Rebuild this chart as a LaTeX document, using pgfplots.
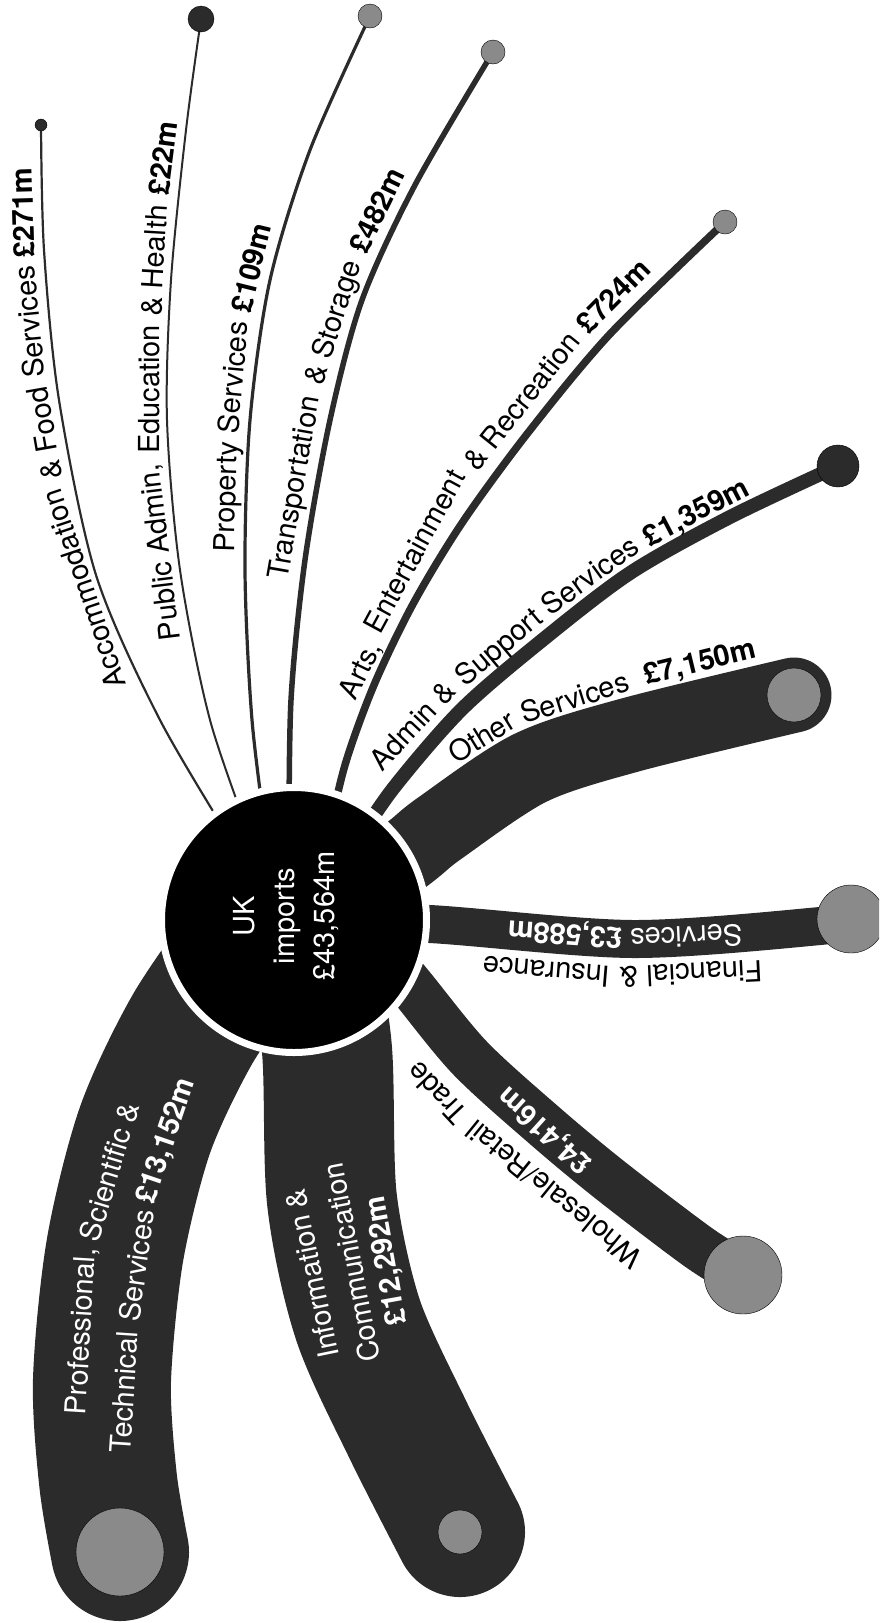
\documentclass[border=0pt]{standalone}
\usepackage{fontspec}
\setmainfont{TeX Gyre Heros}
\usepackage{pgfplots}
\pgfplotsset{compat=1.18}

\definecolor{band}{HTML}{2B2B2B}
\definecolor{knob}{HTML}{8A8A8A}
\protected\def\lf{\fontsize{29}{34}\selectfont}
\protected\def\lfb{\fontsize{29}{34}\selectfont\bfseries}

\pgfplotsset{
  branch/.style={draw=band, line width=#1, line cap=round, line join=round, smooth, mark=none},
  dot/.style 2 args={only marks, mark=*, mark size=#1, mark options={draw=none, fill=#2}},
}
\tikzset{
  w/.style={anchor=base west, inner sep=0pt, rotate=#1, font=\lf},
  wb/.style={anchor=base west, inner sep=0pt, rotate=#1, font=\lfb},
  iw/.style={anchor=west, inner sep=0pt, rotate=#1, font=\lf, text=white},
  iwb/.style={anchor=west, inner sep=0pt, rotate=#1, font=\lfb, text=white},
}

\begin{document}
\begin{tikzpicture}
\begin{axis}[
    scale only axis,
    width=879pt, height=1623pt,
    xmin=0, xmax=879, ymin=0, ymax=1623,
    y dir=reverse,
    hide axis,
    clip marker paths=true,
]
% branches, from the hub outwards
\addplot[branch=2.2pt] coordinates {(240,855) (160,720) (96,575) (59,400) (44,250) (41,125)};
\addplot[branch=2pt] coordinates {(255,850) (210,720) (180,570) (167,420) (171,280) (186,130) (201,19)};
\addplot[branch=3.2pt] coordinates {(268,850) (252,720) (245,570) (250,420) (270,280) (310,150) (370,16)};
\addplot[branch=5.5pt] coordinates {(289,850) (291,700) (305,560) (330,420) (362,300) (415,185) (493,52)};
\addplot[branch=7.5pt] coordinates {(325,850) (345,765) (374,685) (413,604) (462,523) (527,434) (610,334) (725,222)};
\addplot[branch=14pt] coordinates {(345,860) (392,790) (461,710) (540,642) (630,573) (730,517) (838,466)};
\addplot[branch=75pt] coordinates {(340,905) (410,852) (440,828) (530,768) (630,735) (794,695)};
\addplot[branch=38pt] coordinates {(300,921) (430,924) (633,939) (820,926) (851,919)};
\addplot[branch=47pt] coordinates {(360,925) (410,985) (470,1058) (545,1126) (610,1180) (698,1247) (743,1275)};
\addplot[branch=130pt] coordinates {(310,940) (327,1050) (332,1200) (358,1320) (408,1430) (460,1532)};
\addplot[branch=138pt] coordinates {(250,945) (192,1030) (145,1130) (115,1250) (102,1380) (108,1480) (120,1552)};

% end points
\addplot[dot={6pt}{band}] coordinates {(41,125)};
\addplot[dot={13pt}{band}] coordinates {(201,19)};
\addplot[dot={12pt}{knob}] coordinates {(370,16)};
\addplot[dot={12pt}{knob}] coordinates {(493,52)};
\addplot[dot={12pt}{knob}] coordinates {(725,222)};
\addplot[dot={21pt}{band}] coordinates {(838,466)};
\addplot[dot={27pt}{knob}] coordinates {(794,695)};
\addplot[dot={34pt}{knob}] coordinates {(851,919)};
\addplot[dot={39pt}{knob}] coordinates {(743,1275)};
\addplot[dot={22pt}{knob}] coordinates {(460,1532)};
\addplot[dot={44pt}{knob}] coordinates {(120,1552)};

% hub
\addplot[only marks, mark=*, mark size=132.5pt, mark options={fill=black, draw=white, line width=7pt}] coordinates {(294,920)};
\node[rotate=90, align=center, text=white, font=\fontsize{29}{40}\selectfont, inner sep=0pt] at (axis cs:286,916) {UK\\imports\\£43,564m};

% labels, word groups set along the branches
\node[w=108.6] at (axis cs:126.7,684.5) {Accommodation};
\node[w=99.9]  at (axis cs:62.7,477.8) {\& Food};
\node[w=95.4]  at (axis cs:44.9,377) {Services};
\node[wb=91.6] at (axis cs:34.7,257.9) {£271m};

\node[w=96.9]  at (axis cs:180.1,639.3) {Public Admin,};
\node[w=89.8]  at (axis cs:159,454.1) {Education};
\node[w=86.6]  at (axis cs:161,316.7) {\& Health};
\node[wb=82.6] at (axis cs:168.3,196.9) {£22m};

\node[w=88.2]  at (axis cs:234,552.6) {Property};
\node[w=84.8]  at (axis cs:238.1,434.3) {Services};
\node[wb=76.1] at (axis cs:250.3,314.3) {£109m};

\node[w=80.1]  at (axis cs:287.7,580.5) {Transportation};
\node[w=72.3]  at (axis cs:322.4,386.6) {\& Storage};
\node[wb=64.1] at (axis cs:366.1,255.7) {£482m};

\node[w=63.9]  at (axis cs:355.5,701.4) {Arts,};
\node[w=61.5]  at (axis cs:380,636) {Entertainment};
\node[w=51.3]  at (axis cs:476.9,472.6) {\& Recreation};
\node[wb=45.1] at (axis cs:588.7,335.3) {£724m};

\node[w=46.9]  at (axis cs:382.7,772.4) {Admin \&};
\node[w=40]    at (axis cs:465.6,687.3) {Support};
\node[w=36]    at (axis cs:550.6,616.5) {Services};
\node[wb=27.5] at (axis cs:649.7,547.1) {£1,359m};

\node[w=31.5]  at (axis cs:456,764.5) {Other};
\node[w=17.3]  at (axis cs:524,724) {Services};
\node[wb=13.7] at (axis cs:646,685) {£7,150m};

\node[w=182.6, text=white]  at (axis cs:742,924) {Services};
\node[wb=176, text=white]   at (axis cs:622.7,928.5) {£3,588m};
\node[w=182.8] at (axis cs:762,960) {Financial \&};
\node[w=175.3] at (axis cs:610.5,966.5) {Insurance};

\node[wb=138, text=white] at (axis cs:594,1162) {£4,416m};
\node[w=141]   at (axis cs:645,1255) {Wholesale/Retail};
\node[w=133]   at (axis cs:469.6,1113) {Trade};

\node[iw=86.5]  at (axis cs:77,1415) {Professional,};
\node[iw=73.2]  at (axis cs:88.5,1240.2) {Scientific \&};
\node[iw=86.2]  at (axis cs:120,1453) {Technical};
\node[iw=82.1]  at (axis cs:128.8,1321.1) {Services};
\node[iwb=71.3] at (axis cs:145.6,1203.2) {£13,152m};

\node[iw=101.7]  at (axis cs:329,1358) {Information \&};
\node[iw=100.9]  at (axis cs:370,1362) {Communication};
\node[iwb=100.2] at (axis cs:399,1325) {£12,292m};
\end{axis}
\pgfresetboundingbox
\useasboundingbox (current axis.south west) rectangle (current axis.north east);
\end{tikzpicture}
\end{document}
